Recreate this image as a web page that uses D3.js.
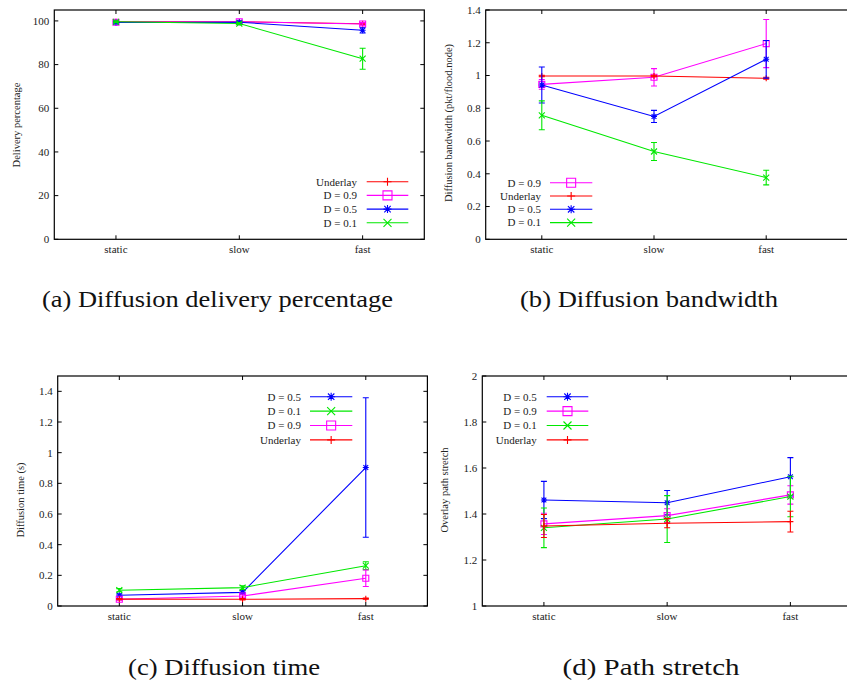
<!DOCTYPE html>
<html>
<head>
<meta charset="utf-8">
<script src="https://cdn.jsdelivr.net/npm/d3@7"></script>
<style>
  body { margin: 0; background: #fff; }
  svg text { font-family: "Liberation Serif", "Times New Roman", serif; fill: #222; }
  .caption { font-family: "Liberation Serif", "Times New Roman", serif; fill: #111; }
</style>
</head>
<body>
<svg id="fig" width="847" height="684"></svg>
<script>
// categories on every x axis
var categories = ["static", "slow", "fast"];

// (a) delivery percentage
var deliveryUnderlay = [99.6, 99.6, 98.7];
var deliveryUnderlayErr = [0.3, 0.3, 0.4];
var deliveryD09 = [99.4, 99.6, 98.6];
var deliveryD09Err = [0.4, 0.3, 0.6];
var deliveryD05 = [99.3, 99.4, 95.7];
var deliveryD05Err = [0.4, 0.4, 1.2];
var deliveryD01 = [99.6, 98.8, 82.7];
var deliveryD01Err = [0.3, 0.5, 4.8];
var deliveryTicks = [0, 20, 40, 60, 80, 100];

// (b) bandwidth
var bwD09 = [0.946, 0.989, 1.195];
var bwD09Err = [0.03, 0.053, 0.147];
var bwUnderlay = [0.997, 0.997, 0.983];
var bwUnderlayErr = [0.005, 0.005, 0.006];
var bwD05 = [0.942, 0.750, 1.099];
var bwD05Err = [0.11, 0.037, 0.115];
var bwD01 = [0.757, 0.536, 0.377];
var bwD01Err = [0.088, 0.055, 0.045];
var bwTicks = [0, 0.2, 0.4, 0.6, 0.8, 1, 1.2, 1.4];

// (c) diffusion time
var timeD05 = [0.070, 0.089, 0.903];
var timeD05Err = [0.008, 0.01, 0.455];
var timeD01 = [0.103, 0.120, 0.263];
var timeD01Err = [0.01, 0.012, 0.026];
var timeD09 = [0.044, 0.065, 0.181];
var timeD09Err = [0.006, 0.008, 0.054];
var timeUnderlay = [0.045, 0.044, 0.048];
var timeUnderlayErr = [0.004, 0.004, 0.004];
var timeTicks = [0, 0.2, 0.4, 0.6, 0.8, 1, 1.2, 1.4];

// (d) path stretch
var stretchD05 = [1.461, 1.449, 1.562];
var stretchD05Err = [0.081, 0.053, 0.083];
var stretchD09 = [1.357, 1.393, 1.483];
var stretchD09Err = [0.046, 0.03, 0.04];
var stretchD01 = [1.340, 1.378, 1.476];
var stretchD01Err = [0.086, 0.102, 0.088];
var stretchUnderlay = [1.348, 1.360, 1.367];
var stretchUnderlayErr = [0.05, 0.02, 0.045];
var stretchTicks = [1, 1.2, 1.4, 1.6, 1.8, 2];

// style per series
var styles = {
  "Underlay": {color: "#ff0000", shape: "plus"},
  "D = 0.9": {color: "#ff00ff", shape: "square"},
  "D = 0.5": {color: "#0000ff", shape: "star"},
  "D = 0.1": {color: "#00e800", shape: "cross"}
};

function symbolPath(shape, r) {
  if (shape == "plus") return "M" + (-r) + ",0H" + r + "M0," + (-r) + "V" + r;
  if (shape == "cross") return "M" + (-r) + "," + (-r) + "L" + r + "," + r + "M" + (-r) + "," + r + "L" + r + "," + (-r);
  if (shape == "square") return "M" + (-r) + "," + (-r) + "H" + r + "V" + r + "H" + (-r) + "Z";
  // asterisk = plus + cross
  return symbolPath("plus", r) + symbolPath("cross", r * 0.8);
}

var svg = d3.select("#fig");

function drawPanel(p) {
  var g = svg.append("g");

  var x = d3.scaleLinear().domain([-0.5, p.xMax]).range([p.left, p.right]);
  var y = d3.scaleLinear().domain(p.yDomain).range([p.bottom, p.top]);

  // y ticks, left and mirrored right
  var tickLen = 4;
  g.selectAll(".yt").data(p.ticks).enter().append("path")
    .attr("d", function(d) { return "M" + p.left + "," + y(d) + "h" + tickLen +
        "M" + p.right + "," + y(d) + "h" + (-tickLen); })
    .attr("stroke", "#000").attr("stroke-width", 1);
  g.selectAll(".yl").data(p.ticks).enter().append("text")
    .attr("x", p.left - 5).attr("y", function(d) { return y(d); })
    .attr("dy", "0.35em").attr("text-anchor", "end")
    .attr("font-size", 11)
    .text(function(d) { return d3.format("~g")(d); });

  // x ticks, bottom and top
  g.selectAll(".xt").data(categories).enter().append("path")
    .attr("d", function(d, i) { return "M" + x(i) + "," + p.bottom + "v" + (-tickLen) +
        "M" + x(i) + "," + p.top + "v" + tickLen; })
    .attr("stroke", "#000").attr("stroke-width", 1);
  g.selectAll(".xl").data(categories).enter().append("text")
    .attr("x", function(d, i) { return x(i); }).attr("y", p.bottom + 13.5)
    .attr("text-anchor", "middle").attr("font-size", 11)
    .text(function(d) { return d; });

  // frame
  g.append("rect")
    .attr("x", p.left).attr("y", p.top)
    .attr("width", p.right - p.left).attr("height", p.bottom - p.top)
    .attr("fill", "none").attr("stroke", "#000").attr("stroke-width", 1.2);

  // axis label
  g.append("text")
    .attr("transform", "translate(" + p.labelX + "," + p.labelY + ") rotate(-90)")
    .attr("dy", "0.35em").attr("text-anchor", "middle").attr("font-size", 10.5)
    .text(p.label);

  var line = d3.line()
    .x(function(d, i) { return x(i); })
    .y(function(d) { return y(d); });

  p.series.forEach(function(s, k) {
    var st = styles[s.name];
    var sg = g.append("g");

    sg.append("path").datum(s.values)
      .attr("d", line).attr("fill", "none")
      .attr("stroke", st.color).attr("stroke-width", 1.1);

    // error bars
    sg.selectAll(".err").data(s.values).enter().append("path")
      .attr("d", function(d, i) {
        var hi = y(d + s.err[i]), lo = y(d - s.err[i]), cx = x(i);
        return "M" + cx + "," + hi + "V" + lo +
          "M" + (cx - 3) + "," + hi + "h6" +
          "M" + (cx - 3) + "," + lo + "h6";
      })
      .attr("fill", "none").attr("stroke", st.color).attr("stroke-width", 1.1);

    sg.selectAll(".pt").data(s.values).enter().append("path")
      .attr("transform", function(d, i) { return "translate(" + x(i) + "," + y(d) + ")"; })
      .attr("d", symbolPath(st.shape, 3))
      .attr("fill", "none").attr("stroke", st.color).attr("stroke-width", 1.1);

    // legend entry
    var ly = p.legend.y + k * p.legend.step;
    g.append("text")
      .attr("x", p.legend.textX).attr("y", ly).attr("dy", "0.35em")
      .attr("text-anchor", "end").attr("font-size", 11)
      .text(s.name);
    g.append("path")
      .attr("d", "M" + p.legend.x1 + "," + ly + "H" + p.legend.x2)
      .attr("stroke", st.color).attr("stroke-width", 1.1);
    g.append("path")
      .attr("transform", "translate(" + (p.legend.x1 + p.legend.x2) / 2 + "," + ly + ")")
      .attr("d", symbolPath(st.shape, st.shape == "square" ? 4.5 : 4))
      .attr("fill", "none").attr("stroke", st.color).attr("stroke-width", 1.1);
  });

  // sub-figure caption, stretched a little to the width of the LaTeX original
  svg.append("text").attr("class", "caption")
    .attr("x", p.capX).attr("y", p.capY)
    .attr("text-anchor", "middle").attr("font-size", 22.5)
    .attr("textLength", p.capW).attr("lengthAdjust", "spacingAndGlyphs")
    .text(p.caption);
}

drawPanel({
  left: 54.3, right: 424.3, top: 10, bottom: 239.3, xMax: 2.5,
  yDomain: [0, 105], ticks: deliveryTicks,
  label: "Delivery percentage", labelX: 16.7, labelY: 125,
  series: [
    {name: "Underlay", values: deliveryUnderlay, err: deliveryUnderlayErr},
    {name: "D = 0.9", values: deliveryD09, err: deliveryD09Err},
    {name: "D = 0.5", values: deliveryD05, err: deliveryD05Err},
    {name: "D = 0.1", values: deliveryD01, err: deliveryD01Err}
  ],
  legend: {textX: 357, y: 181.7, step: 13.7, x1: 366.7, x2: 408.3},
  caption: "(a) Diffusion delivery percentage", capX: 217.5, capY: 307, capW: 351
});

drawPanel({
  left: 485.7, right: 856, top: 10, bottom: 239.3, xMax: -0.5 + (856 - 485.7) / 112.2,
  yDomain: [0, 1.4], ticks: bwTicks,
  label: "Diffusion bandwidth (pkt/flood.node)", labelX: 448.3, labelY: 123,
  series: [
    {name: "D = 0.9", values: bwD09, err: bwD09Err},
    {name: "Underlay", values: bwUnderlay, err: bwUnderlayErr},
    {name: "D = 0.5", values: bwD05, err: bwD05Err},
    {name: "D = 0.1", values: bwD01, err: bwD01Err}
  ],
  legend: {textX: 541, y: 182.7, step: 13.3, x1: 550, x2: 592.3},
  caption: "(b) Diffusion bandwidth", capX: 649, capY: 307, capW: 258
});

drawPanel({
  left: 57.7, right: 427.4, top: 376, bottom: 606, xMax: 2.5,
  yDomain: [0, 1.5], ticks: timeTicks,
  label: "Diffusion time (s)", labelX: 20, labelY: 500,
  series: [
    {name: "D = 0.5", values: timeD05, err: timeD05Err},
    {name: "D = 0.1", values: timeD01, err: timeD01Err},
    {name: "D = 0.9", values: timeD09, err: timeD09Err},
    {name: "Underlay", values: timeUnderlay, err: timeUnderlayErr}
  ],
  legend: {textX: 301, y: 396.7, step: 14.4, x1: 310, x2: 352.3},
  caption: "(c) Diffusion time", capX: 224, capY: 675, capW: 192
});

drawPanel({
  left: 482.3, right: 852, top: 376, bottom: 606, xMax: 2.5,
  yDomain: [1, 2], ticks: stretchTicks,
  label: "Overlay path stretch", labelX: 444, labelY: 490,
  series: [
    {name: "D = 0.5", values: stretchD05, err: stretchD05Err},
    {name: "D = 0.9", values: stretchD09, err: stretchD09Err},
    {name: "D = 0.1", values: stretchD01, err: stretchD01Err},
    {name: "Underlay", values: stretchUnderlay, err: stretchUnderlayErr}
  ],
  legend: {textX: 536.7, y: 396.7, step: 14.4, x1: 546.7, x2: 588.3},
  caption: "(d) Path stretch", capX: 651, capY: 675, capW: 177
});
</script>
</body>
</html>
